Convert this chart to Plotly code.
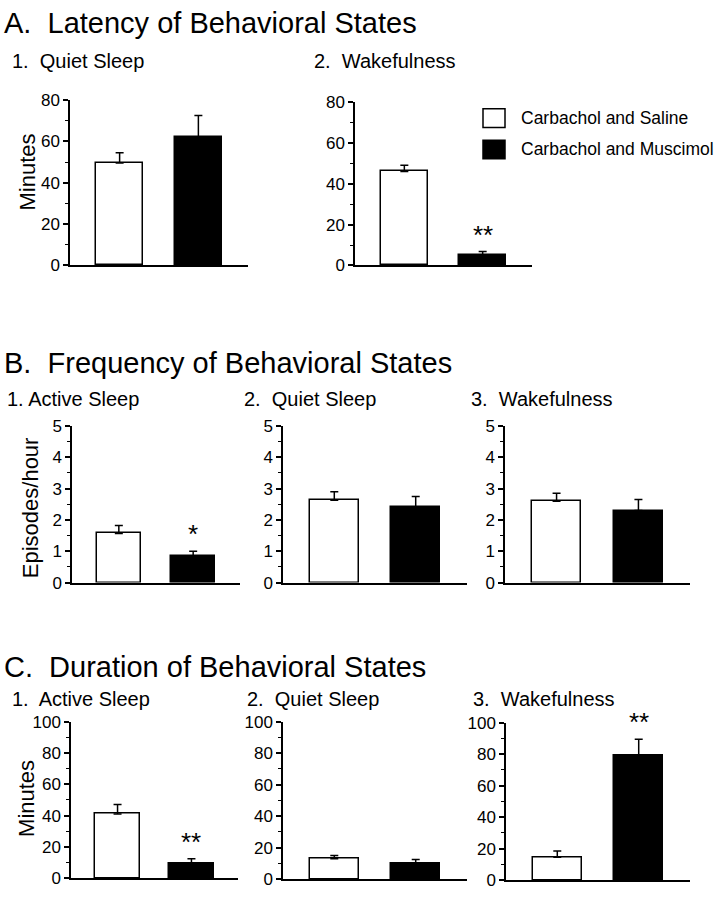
import plotly.graph_objects as go

W, H = 716, 899

groups = ["Carbachol and Saline", "Carbachol and Muscimol"]
bar_fill = ["white", "black"]
cats = [0, 1]

# A. Latency of behavioral states (minutes)
lat_quiet = [49.5, 62]
lat_quiet_err = [5, 10.5]
lat_quiet_sig = ["", ""]
lat_wake = [46, 5]
lat_wake_err = [3, 1.8]
lat_wake_sig = ["", "**"]

# B. Frequency of behavioral states (episodes/hour)
freq_active = [1.57, 0.85]
freq_active_err = [0.25, 0.15]
freq_active_sig = ["", "*"]
freq_quiet = [2.63, 2.4]
freq_quiet_err = [0.27, 0.35]
freq_quiet_sig = ["", ""]
freq_wake = [2.6, 2.3]
freq_wake_err = [0.25, 0.35]
freq_wake_sig = ["", ""]

# C. Duration of behavioral states (minutes)
dur_active = [41, 9.5]
dur_active_err = [6, 3]
dur_active_sig = ["", "**"]
dur_quiet = [13, 10]
dur_quiet_err = [2, 2.5]
dur_quiet_sig = ["", ""]
dur_wake = [14.5, 79]
dur_wake_err = [4, 10.5]
dur_wake_sig = ["", "**"]

FONT = "Liberation Sans, Arial, Helvetica, sans-serif"

# (values, errors, stars, ymax, major, minor, pixel box l, t, r, b)
panels = [
    (lat_quiet, lat_quiet_err, lat_quiet_sig, 80, 20, 10, (70, 93, 248, 262)),
    (lat_wake, lat_wake_err, lat_wake_sig, 80, 20, 10, (355, 95, 532, 262)),
    (freq_active, freq_active_err, freq_active_sig, 5, 1, 0.5, (72, 426, 240, 586)),
    (freq_quiet, freq_quiet_err, freq_quiet_sig, 5, 1, 0.5, (283, 426, 467, 586)),
    (freq_wake, freq_wake_err, freq_wake_sig, 5, 1, 0.5, (505, 426, 690, 586)),
    (dur_active, dur_active_err, dur_active_sig, 100, 20, 10, (71, 728, 238, 888)),
    (dur_quiet, dur_quiet_err, dur_quiet_sig, 100, 20, 10, (283, 728, 467, 889)),
    (dur_wake, dur_wake_err, dur_wake_sig, 100, 20, 10, (506, 729, 690, 890)),
]

fig = go.Figure()
annotations = []

for i, (vals, errs, sig, ymax, major, minor, box) in enumerate(panels):
    n = "" if i == 0 else str(i + 1)
    l, t, r, b = box
    fig.add_trace(go.Bar(
        x=cats, y=vals, width=0.6,
        marker=dict(color=bar_fill, line=dict(color="black", width=1.5)),
        error_y=dict(type="data", symmetric=False, array=errs, arrayminus=[0, 0],
                     color="black", thickness=1.5, width=4),
        xaxis="x" + n, yaxis="y" + n, showlegend=False,
    ))
    fig.layout["xaxis" + n] = dict(
        domain=[l / W, r / W], anchor="y" + n, range=[-0.63, 1.63],
        showticklabels=False, ticks="", showgrid=False, zeroline=False,
        showline=True, linecolor="black", linewidth=1.5, fixedrange=True,
    )
    fig.layout["yaxis" + n] = dict(
        domain=[1 - b / H, 1 - t / H], anchor="x" + n, range=[0, ymax],
        dtick=major, tick0=0, ticks="outside", ticklen=5, tickwidth=1.5,
        tickcolor="black", showgrid=False, zeroline=False,
        showline=True, linecolor="black", linewidth=1.5,
        tickfont=dict(family=FONT, size=17, color="black"),
        minor=dict(dtick=minor, ticks="outside", ticklen=3, tickwidth=1, tickcolor="black"),
        fixedrange=True,
    )
    # significance stars above the error bars
    for c, v, e, s in zip(cats, vals, errs, sig):
        if s:
            annotations.append(dict(
                x=c, y=v + e, xref="x" + n, yref="y" + n, text=s, showarrow=False,
                yanchor="bottom", yshift=0,
                font=dict(family=FONT, size=26, color="black"),
            ))

NB = "\u00a0"
labels = [
    ("A." + NB + " Latency of Behavioral States", 2, 14, 29),
    ("1." + NB + " Quiet Sleep", 10, 53, 20),
    ("2." + NB + " Wakefulness", 312, 53, 20),
    ("B." + NB + " Frequency of Behavioral States", 2, 362, 29),
    ("1. Active Sleep", 5, 398, 20),
    ("2." + NB + " Quiet Sleep", 242, 398, 20),
    ("3." + NB + " Wakefulness", 469, 398, 20),
    ("C." + NB + " Duration of Behavioral States", 2, 672, 29),
    ("1." + NB + " Active Sleep", 10, 705, 20),
    ("2." + NB + " Quiet Sleep", 245, 705, 20),
    ("3." + NB + " Wakefulness", 471, 705, 20),
]
for text, px_x, px_y, size in labels:
    annotations.append(dict(
        x=px_x / W, y=1 - px_y / H, xref="paper", yref="paper", text=text,
        showarrow=False, xanchor="left", yanchor="middle",
        font=dict(family=FONT, size=size, color="black"),
    ))

# y-axis titles
for text, px_x, px_y in [("Minutes", 27, 167), ("Episodes/hour", 30, 510), ("Minutes", 27, 807)]:
    annotations.append(dict(
        x=px_x / W, y=1 - px_y / H, xref="paper", yref="paper", text=text,
        showarrow=False, textangle=-90, xanchor="center", yanchor="middle",
        font=dict(family=FONT, size=22, color="black"),
    ))

# legend drawn as boxes + labels
shapes = []
for k, (name, color) in enumerate(zip(groups, bar_fill)):
    top = 102 + k * 32
    shapes.append(dict(
        type="rect", xref="paper", yref="paper",
        x0=483 / W, x1=505 / W, y0=1 - (top + 19) / H, y1=1 - top / H,
        fillcolor=color, line=dict(color="black", width=1.5),
    ))
    annotations.append(dict(
        x=519 / W, y=1 - (top + 9.5) / H, xref="paper", yref="paper", text=name,
        showarrow=False, xanchor="left", yanchor="middle",
        font=dict(family=FONT, size=17.5, color="black"),
    ))

fig.update_layout(
    width=W, height=H, autosize=False,
    margin=dict(l=0, r=0, t=0, b=0),
    paper_bgcolor="white", plot_bgcolor="white",
    annotations=annotations, shapes=shapes,
    bargap=0, showlegend=False,
    font=dict(family=FONT, color="black"),
)

# plotly's page keeps the browser's default 8px body margin; drop it
fig.write_html("out.html", config={"displayModeBar": False},
               post_script="document.body.style.margin='0';document.body.style.overflow='hidden';")
